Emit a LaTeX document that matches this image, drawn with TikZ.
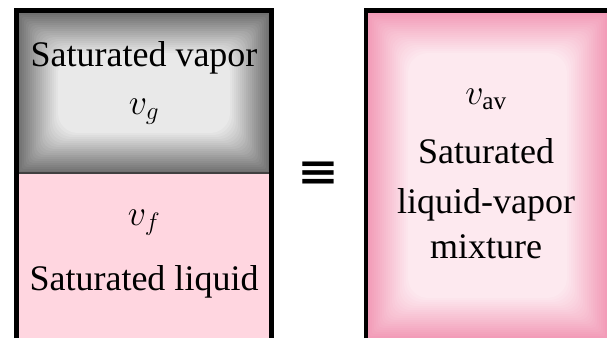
\RequirePackage{fix-cm}
\documentclass[tikz,border=0pt]{standalone}
\usepackage{fontspec}
\setmainfont{Liberation Serif}
\newfontfamily\symfont{DejaVu Sans}
\usetikzlibrary{positioning}
\definecolor{vapor}{RGB}{112,112,112}
\definecolor{mist}{RGB}{233,233,233}
\definecolor{rose}{RGB}{242,156,184}
\definecolor{blush}{RGB}{253,233,239}
\definecolor{liquid}{RGB}{255,214,224}
\tikzset{
  wall/.style={draw=black,line width=4.5pt},
  seam/.style={draw=black!75,line width=1.5pt},
  txt/.style={anchor=base,inner sep=0pt,font=\fontsize{36}{44}\selectfont},
  equiv/.style={inner sep=0pt,xscale=1.25,font=\symfont\bfseries\fontsize{40}{40}\selectfont},
}

\begin{document}
\begin{tikzpicture}[x=1pt,y=-1pt]
  \useasboundingbox (0,0) rectangle (607,338);
  % vapor cell, dark rim fading inwards
  \foreach \k [evaluate=\k as \p using int(5*\k)] in {0,...,20}
    \fill[mist!\p!vapor,rounded corners=\k pt] (18+2*\k,13+2*\k) rectangle (270-2*\k,173-2*\k);
  % liquid cell
  \fill[liquid] (18,173) rectangle (270,338);
  % mixture box
  \foreach \k [evaluate=\k as \p using int(5*\k)] in {0,...,20}
    \fill[blush!\p!rose,rounded corners=\k pt] (368+2*\k,13+2*\k) rectangle (607-2*\k,338-2*\k);
  % walls
  \draw[seam] (18,173) -- (270,173);
  \draw[wall] (16.5,338) -- (16.5,10.5) -- (271.5,10.5) -- (271.5,338);
  \draw[wall] (366,338) -- (366,10.5) -- (607,10.5);
  % texts
  \node[txt] (vap) at (144,66) {Saturated vapor};
  \node[txt] (vg) at (144,114) {$v_g$};
  \node[txt] (vf) at (144,225) {$v_f$};
  \node[txt] (liq) at (144,290) {Saturated liquid};
  \node[txt] (vav) at (486,104) {$v_{\mathrm{av}}$};
  \node[txt] (sat) at (486,163) {Saturated};
  \node[txt] (lv) at (486,213) {liquid-vapor};
  \node[txt] (mix) at (486,258) {mixture};
  \node[equiv] (eq) at (318,174) {≡};
\end{tikzpicture}
\end{document}
